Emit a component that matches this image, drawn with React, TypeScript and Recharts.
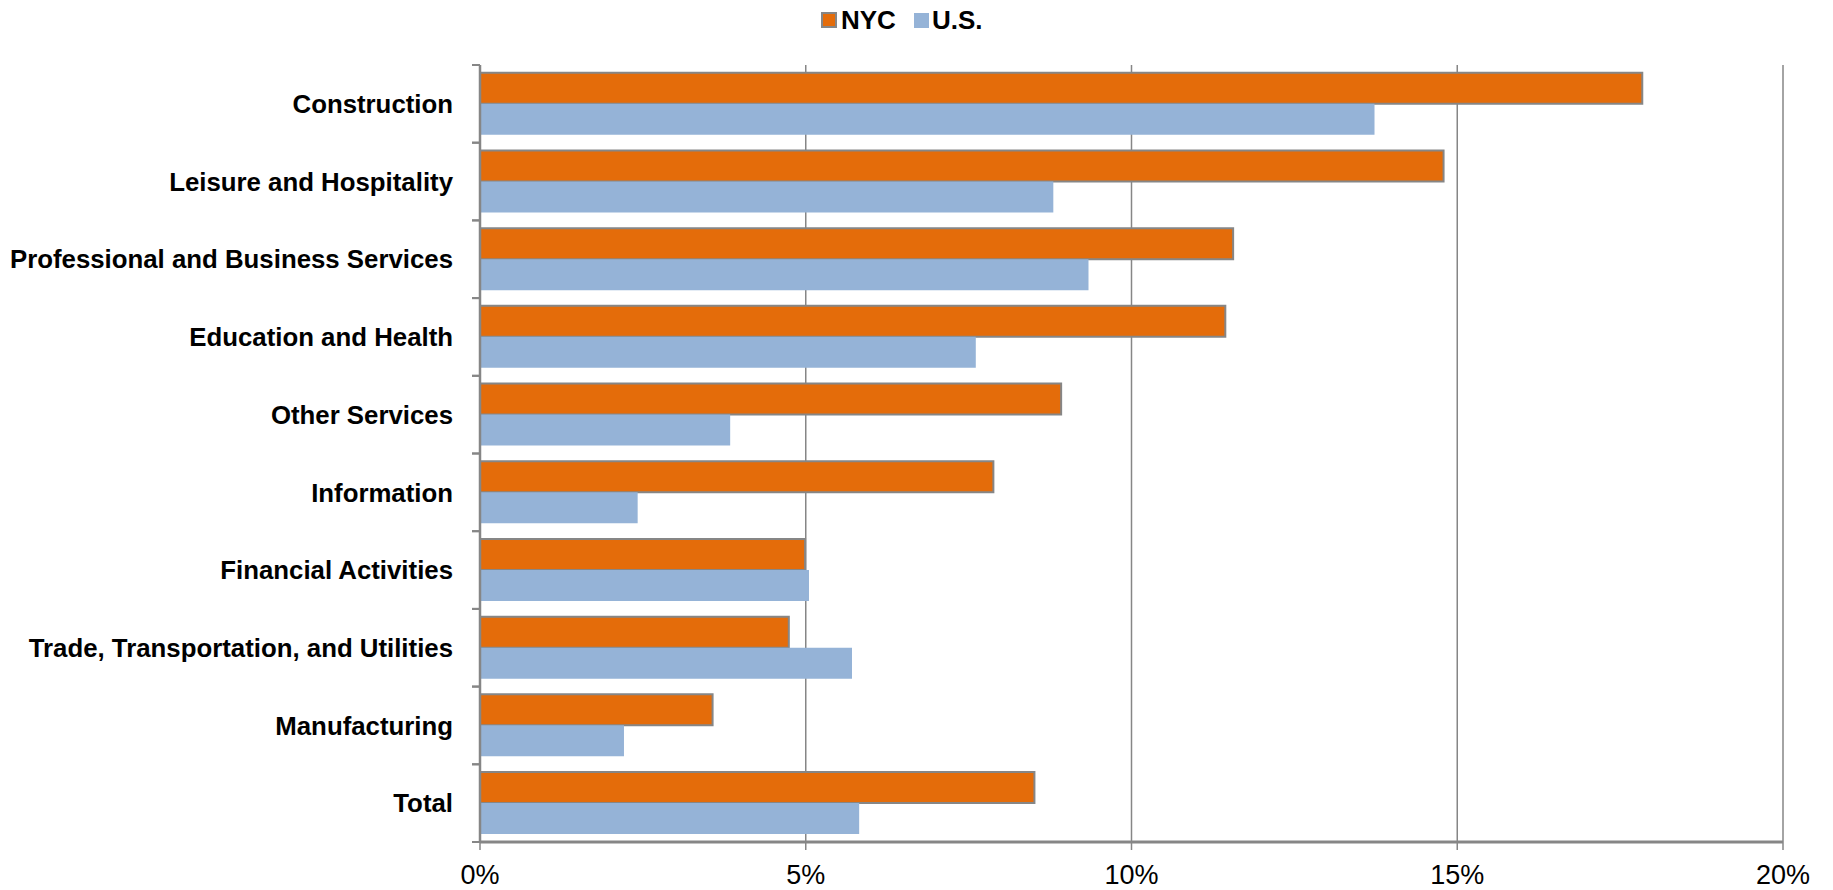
import React from "react";
import { BarChart, Bar, XAxis, YAxis, CartesianGrid, Legend } from "recharts";

const categories = [
  "Construction",
  "Leisure and Hospitality",
  "Professional and Business Services",
  "Education and Health",
  "Other Services",
  "Information",
  "Financial Activities",
  "Trade, Transportation, and Utilities",
  "Manufacturing",
  "Total",
];
const nycValues = [0.1784, 0.1479, 0.1156, 0.1144, 0.0892, 0.0788, 0.0499, 0.0474, 0.0357, 0.0851];
const usValues = [0.1373, 0.0880, 0.0934, 0.0761, 0.0384, 0.0242, 0.0505, 0.0571, 0.0221, 0.0582];
const xTicks = [0, 0.05, 0.1, 0.15, 0.2];
const seriesNames = ["NYC", "U.S."];

const ORANGE = "#E46C0A";
const BLUE = "#95B3D7";
const GRAY = "#868686";
const FONT = "'Liberation Sans', Arial, sans-serif";

const data = categories.map((c, i) => ({ name: c, nyc: nycValues[i], us: usValues[i] }));

const CategoryTick = (props: any) => {
  const { x, y, payload } = props;
  const half = payload.offset || 0;
  const axisX = x + 27;
  return (
    <g>
      <line x1={axisX - 8} x2={axisX} y1={y - half} y2={y - half} stroke={GRAY} strokeWidth={2} />
      <line x1={axisX - 8} x2={axisX} y1={y + half} y2={y + half} stroke={GRAY} strokeWidth={2} />
      <text
        x={x}
        y={y}
        dy="0.355em"
        textAnchor="end"
        fontFamily={FONT}
        fontWeight="bold"
        fontSize={25.8}
        fill="#000"
      >
        {payload.value}
      </text>
    </g>
  );
};

const LegendContent = () => (
  <div style={{ display: "flex", alignItems: "center", height: 30, fontFamily: FONT, fontWeight: "bold", fontSize: 26, color: "#000" }}>
    <span style={{ display: "inline-block", width: 12, height: 12, background: ORANGE, border: `2px solid ${GRAY}`, marginRight: 4 }} />
    <span style={{ marginRight: 18 }}>{seriesNames[0]}</span>
    <span style={{ display: "inline-block", width: 15, height: 15, background: BLUE, marginRight: 3 }} />
    <span>{seriesNames[1]}</span>
  </div>
);

export default function App() {
  return (
    <div style={{ position: "absolute", left: 0, top: 0, width: 1833, height: 890, background: "#fff" }}>
      <BarChart
        width={1833}
        height={890}
        data={data}
        layout="vertical"
        margin={{ top: 65, right: 50, bottom: 0, left: 0 }}
        barCategoryGap="10%"
        barGap={0}
      >
        <CartesianGrid horizontal={false} vertical={true} stroke={GRAY} strokeWidth={1.5} xAxisId="main" />
        <XAxis
          xAxisId="main"
          type="number"
          domain={[0, 0.2]}
          ticks={xTicks}
          tickFormatter={(v: number) => `${Math.round(v * 100)}%`}
          axisLine={{ stroke: GRAY, strokeWidth: 3 }}
          tickLine={{ stroke: GRAY, strokeWidth: 1.5 }}
          tickSize={8}
          tickMargin={15}
          height={48}
          interval={0}
          tick={{ fontFamily: FONT, fontSize: 27, fill: "#000" }}
        />
        <XAxis
          xAxisId="top"
          orientation="top"
          type="number"
          domain={[0, 0.2]}
          ticks={xTicks}
          tick={false}
          tickLine={false}
          height={0}
          axisLine={{ stroke: GRAY, strokeWidth: 2 }}
        />
        <YAxis
          type="category"
          dataKey="name"
          width={480}
          axisLine={{ stroke: GRAY, strokeWidth: 2.5 }}
          tickLine={false}
          tickSize={8}
          tickMargin={19}
          interval={0}
          tick={<CategoryTick />}
        />
        <Legend
          verticalAlign="middle"
          align="center"
          layout="horizontal"
          content={<LegendContent />}
          wrapperStyle={{ top: 5, left: 821, width: 240 }}
        />
        <Bar xAxisId="main" dataKey="nyc" name={seriesNames[0]} fill={ORANGE} stroke={GRAY} strokeWidth={2} isAnimationActive={false} />
        <Bar xAxisId="main" dataKey="us" name={seriesNames[1]} fill={BLUE} isAnimationActive={false} />
      </BarChart>
    </div>
  );
}
